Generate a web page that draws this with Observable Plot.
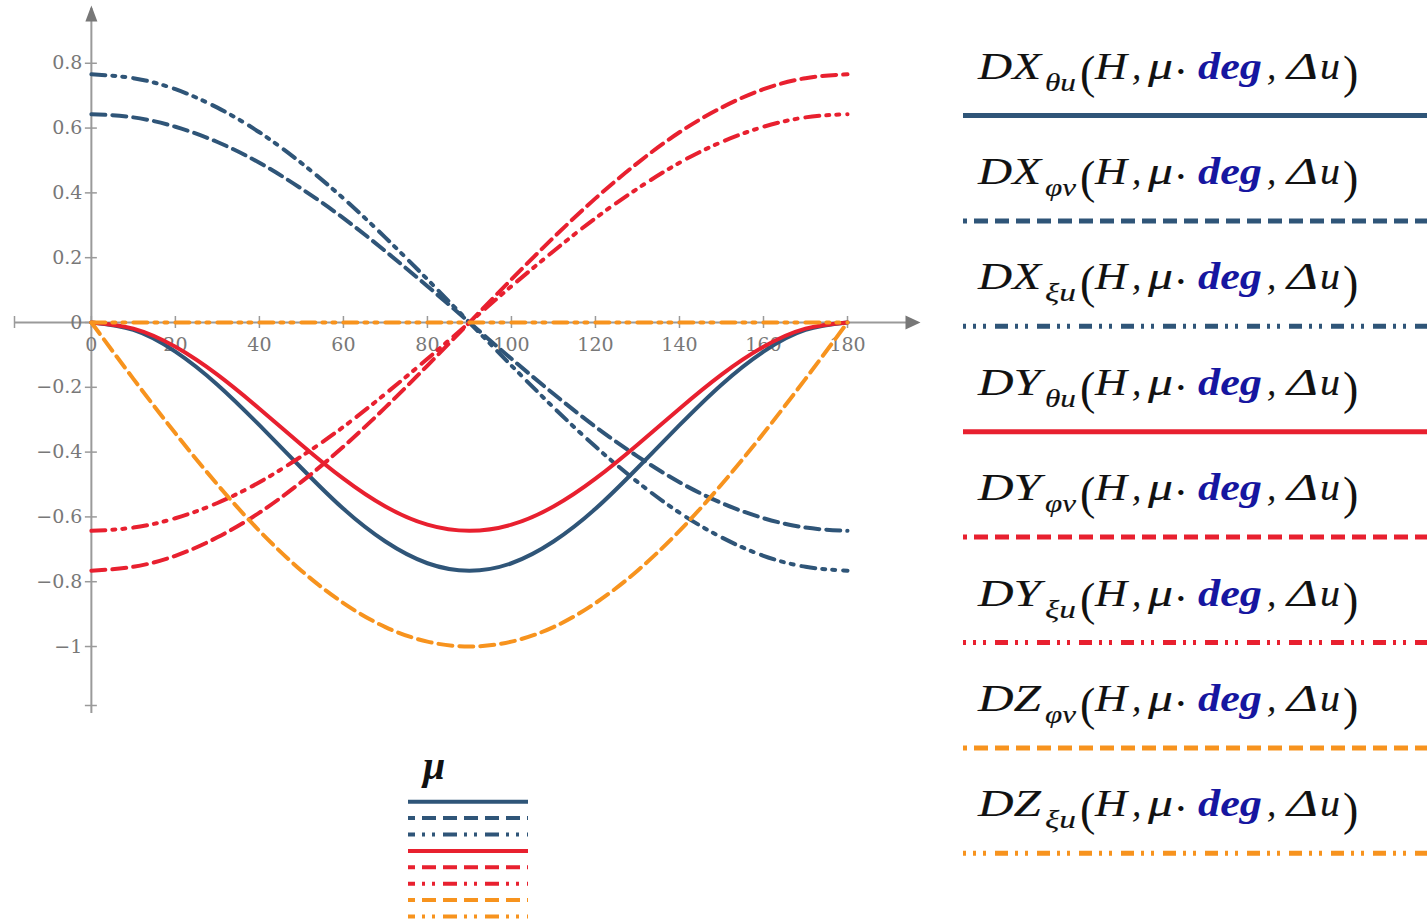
<!DOCTYPE html>
<html><head><meta charset="utf-8">
<script src="https://cdn.jsdelivr.net/npm/d3@7"></script>
<script src="https://cdn.jsdelivr.net/npm/@observablehq/plot@0.6"></script>
<style>
body{margin:0;background:#fff;}
#wrap{position:relative;width:1427px;height:920px;overflow:hidden;background:#fff;}
#plot{position:absolute;left:0;top:0;}
#legend{position:absolute;left:0;top:0;pointer-events:none;}
</style></head><body>
<div id="wrap"><div id="plot"></div><svg id="legend" width="1427" height="920"></svg></div>
<script>
// ---- data ----
const mu = [0,10,20,30,40,50,60,70,80,90,100,110,120,130,140,150,160,170,180];
const DX_thetau = [0,-0.023,-0.090,-0.192,-0.317,-0.449,-0.575,-0.676,-0.743,-0.766,-0.743,-0.676,-0.575,-0.449,-0.317,-0.192,-0.090,-0.023,0];
const DX_phiv   = [0.643,0.633,0.604,0.557,0.493,0.413,0.322,0.220,0.112,0,-0.112,-0.220,-0.322,-0.413,-0.493,-0.557,-0.604,-0.633,-0.643];
const DX_xiu    = [0.766,0.754,0.720,0.663,0.587,0.492,0.383,0.262,0.133,0,-0.133,-0.262,-0.383,-0.492,-0.587,-0.663,-0.720,-0.754,-0.766];
const DY_thetau = [0,-0.019,-0.075,-0.161,-0.266,-0.377,-0.482,-0.568,-0.624,-0.643,-0.624,-0.568,-0.482,-0.377,-0.266,-0.161,-0.075,-0.019,0];
const DY_phiv   = [-0.766,-0.754,-0.720,-0.663,-0.587,-0.492,-0.383,-0.262,-0.133,0,0.133,0.262,0.383,0.492,0.587,0.663,0.720,0.754,0.766];
const DY_xiu    = [-0.643,-0.633,-0.604,-0.557,-0.493,-0.413,-0.322,-0.220,-0.112,0,0.112,0.220,0.322,0.413,0.493,0.557,0.604,0.633,0.643];
const DZ_phiv   = [0,-0.174,-0.342,-0.500,-0.643,-0.766,-0.866,-0.940,-0.985,-1,-0.985,-0.940,-0.866,-0.766,-0.643,-0.500,-0.342,-0.174,0];
const DZ_xiu    = [0,0,0,0,0,0,0,0,0,0,0,0,0,0,0,0,0,0,0];

const seriesValues = [DX_thetau, DX_phiv, DX_xiu, DY_thetau, DY_phiv, DY_xiu, DZ_phiv, DZ_xiu];
const seriesMain = ["DX","DX","DX","DY","DY","DY","DZ","DZ"];
const seriesSub  = ["θu","φv","ξu","θu","φv","ξu","φv","ξu"];

const xTicks = [0,20,40,60,80,100,120,140,160,180];
const xTickLabels = ["0","20","40","60","80","100","120","140","160","180"];
const yTicks = [0.8,0.6,0.4,0.2,0,-0.2,-0.4,-0.6,-0.8,-1];
const yTickLabels = ["0.8","0.6","0.4","0.2","0","−0.2","−0.4","−0.6","−0.8","−1"];
const xDomain = [-18.3, 196.9];
const yDomain = [-1.182, 0.969];

// ---- styles ----
const BLUE = "#2f5578", RED = "#e8202f", ORANGE = "#f7931e";
const seriesColor = [BLUE,BLUE,BLUE,RED,RED,RED,ORANGE,ORANGE];
const DASH = "14,7", DDOT = "14,7,3,7,3,8";
const seriesDash = [null,DASH,DDOT,null,DASH,DDOT,DASH,DDOT];
const AXIS = "#9a9a9a";
const TICKFONT = "DejaVu Serif";

const table = seriesValues.map((vals, s) => mu.map((m, i) => ({mu: m, v: vals[i], s})));

const arrowRight = {draw(ctx){ ctx.moveTo(2,0); ctx.lineTo(-13,-7); ctx.lineTo(-13,7); ctx.closePath(); }};
const arrowUp = {draw(ctx){ ctx.moveTo(0,-3); ctx.lineTo(-6,13); ctx.lineTo(6,13); ctx.closePath(); }};

const marks = [
  Plot.ruleY([0], {x1: () => xDomain[0], x2: () => xDomain[1], stroke: AXIS, strokeWidth: 2, insetRight: 10}),
  Plot.ruleX([0], {y1: () => yDomain[0], y2: () => yDomain[1], stroke: AXIS, strokeWidth: 2, insetTop: 8}),
  Plot.dot([xDomain[1]], {x: d => d, y: () => 0, symbol: arrowRight, fill: "#777", stroke: null}),
  Plot.dot([yDomain[1]], {x: () => 0, y: d => d, symbol: arrowUp, fill: "#777", stroke: null}),
  Plot.ruleX([xDomain[0]].concat(xTicks), {x: d => d, y1: () => 0, y2: () => 0, insetTop: -6, insetBottom: -6, stroke: AXIS, strokeWidth: 1.5}),
  Plot.ruleY([yDomain[0]].concat(yTicks), {y: d => d, x1: () => 0, x2: () => 0, insetLeft: -6, insetRight: -6, stroke: AXIS, strokeWidth: 1.5}),
  Plot.text(yTicks, {x: () => 0, y: d => d, text: (d, i) => yTickLabels[i], dx: -9, textAnchor: "end", fontFamily: TICKFONT, fontSize: 19, fill: "#787878"}),
  Plot.text(xTicks, {x: d => d, y: () => 0, text: (d, i) => xTickLabels[i], dy: 22, textAnchor: "middle", fontFamily: TICKFONT, fontSize: 19, fill: "#787878"}),
];
table.forEach((rows, s) => {
  marks.push(Plot.line(rows, {x: "mu", y: "v", stroke: seriesColor[s], strokeWidth: 4, strokeDasharray: seriesDash[s] || undefined, curve: "natural"}));
});

const chart = Plot.plot({
  width: 930, height: 720,
  marginTop: 8, marginBottom: 15, marginLeft: 14, marginRight: 12,
  x: {domain: xDomain, axis: null},
  y: {domain: yDomain, axis: null},
  style: {background: "transparent", overflow: "visible"},
  marks
});
document.getElementById("plot").appendChild(chart);

// ---- legends ----
const svg = d3.select("#legend");
const SERIF = "Liberation Serif";
const lineY0 = 115.5, step = 105.4;
function piece(x, y, txt, o) {
  const t = svg.append("text").attr("x", x).attr("y", y)
    .attr("font-family", SERIF).attr("font-style", o.upright ? "normal" : "italic")
    .attr("font-size", o.size || 37).attr("fill", o.fill || "#111")
    .attr("stroke", o.fill || "#111").attr("stroke-width", o.sw == null ? 0.15 : o.sw)
    .text(txt);
  if (o.bold) t.attr("font-weight", "bold");
  if (o.len) t.attr("textLength", o.len).attr("lengthAdjust", "spacingAndGlyphs");
  return t;
}
seriesMain.forEach((main, s) => {
  const ly = lineY0 + s * step;
  const by = ly - 37;
  piece(978, by, main, {len: 63});
  piece(1045, by + 12, seriesSub[s], {size: 25, len: 31});
  piece(1080, by + 9, "(", {size: 46, upright: true, sw: 0});
  piece(1095, by, "H", {len: 32});
  piece(1132, by, ",", {});
  piece(1148, by, "μ", {len: 25});
  piece(1177, by, "•", {size: 22, upright: true, sw: 0});
  piece(1198, by, "deg", {bold: true, fill: "#1616a0", len: 64, sw: 0});
  piece(1267, by, ",", {});
  piece(1287, by, "Δ", {len: 31});
  piece(1320, by, "u", {len: 20});
  piece(1343, by + 9, ")", {size: 46, upright: true, sw: 0});
  svg.append("line").attr("x1", 963).attr("x2", 1427).attr("y1", ly).attr("y2", ly)
    .attr("stroke", seriesColor[s]).attr("stroke-width", 5)
    .attr("stroke-dasharray", seriesDash[s] ? (seriesDash[s] === DASH ? "14,7" : "13,7,3,7,3,9") : null)
    .attr("stroke-dashoffset", seriesDash[s] ? 10 : null);
});
svg.append("text").attr("x", 423).attr("y", 779)
  .attr("font-family", SERIF).attr("font-style", "italic").attr("font-weight", "bold")
  .attr("font-size", 40).attr("fill", "#111").text("μ");
seriesMain.forEach((m, s) => {
  const y = 801.7 + s * 16.4;
  svg.append("line").attr("x1", 408).attr("x2", 528).attr("y1", y).attr("y2", y)
    .attr("stroke", seriesColor[s]).attr("stroke-width", 4)
    .attr("stroke-dasharray", seriesDash[s] || null)
    .attr("stroke-dashoffset", seriesDash[s] ? 7 : null);
});
</script>
</body></html>
